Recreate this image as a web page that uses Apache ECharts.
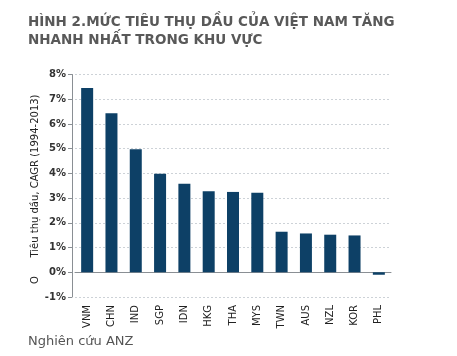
<!DOCTYPE html>
<html><head><meta charset="utf-8">
<script src="https://cdn.jsdelivr.net/npm/echarts@6/dist/echarts.min.js"></script>
<style>html,body{margin:0;padding:0;background:#fff}#c{width:457px;height:356px}</style>
</head><body><div id="c"></div>
<script>
const categories = ['VNM','CHN','IND','SGP','IDN','HKG','THA','MYS','TWN','AUS','NZL','KOR','PHL'];
const cagrValues = [7.45, 6.43, 4.98, 3.99, 3.58, 3.28, 3.25, 3.22, 1.64, 1.57, 1.52, 1.49, -0.1];
const yTicks = {min: -1, max: 8, interval: 1};
const titleLines = ['HÌNH 2.MỨC TIÊU THỤ DẦU CỦA VIỆT NAM TĂNG', 'NHANH NHẤT TRONG KHU VỰC'];
const yAxisName = 'Tiêu thụ dầu, CAGR (1994-2013)';
const sourceText = 'Nghiên cứu ANZ';

const chart = echarts.init(document.getElementById('c'), null, {renderer: 'canvas'});
chart.setOption({
  animation: false,
  backgroundColor: '#ffffff',
  textStyle: {fontFamily: 'DejaVu Sans'},
  title: {
    text: titleLines.join('\n'),
    left: 23, top: 8,
    textStyle: {fontFamily: 'DejaVu Sans', fontSize: 13.5, fontWeight: 'bold', color: '#595959', lineHeight: 18}
  },
  grid: {left: 75, right: 66, top: 74.5, bottom: 59},
  xAxis: {
    type: 'category',
    data: categories,
    axisLine: {lineStyle: {color: '#8a8f94', width: 1}},
    axisTick: {alignWithLabel: false, length: 4, lineStyle: {color: '#8a8f94'}},
    axisLabel: {rotate: 90, interval: 0, margin: 8, fontSize: 10, color: '#222', fontFamily: 'DejaVu Sans'},
    splitLine: {show: false}
  },
  yAxis: {
    type: 'value',
    offset: 3,
    min: yTicks.min, max: yTicks.max, interval: yTicks.interval,
    axisLine: {show: true, onZero: false, lineStyle: {color: '#8a8f94'}},
    axisTick: {show: true, length: 4, lineStyle: {color: '#8a8f94'}},
    axisLabel: {formatter: '{value}%', fontSize: 10, fontWeight: 'bold', color: '#333', margin: 6, fontFamily: 'DejaVu Sans'},
    splitLine: {lineStyle: {color: '#cdd2d7', type: [2, 2], width: 1}}
  },
  series: [{
    type: 'bar',
    data: cagrValues,
    barWidth: 12,
    itemStyle: {color: '#0d4066'}
  }],
  graphic: [
    {type: 'text', left: 28, top: 335, style: {text: sourceText, fontSize: 13, fill: '#555', fontFamily: 'DejaVu Sans'}},
    {type: 'text', x: 35, y: 176, rotation: Math.PI / 2,
     style: {text: yAxisName, fontSize: 10, fill: '#222', align: 'center', verticalAlign: 'middle', fontFamily: 'DejaVu Sans'}},
    {type: 'text', x: 35, y: 280, rotation: Math.PI / 2,
     style: {text: 'O', fontSize: 10, fill: '#222', align: 'center', verticalAlign: 'middle', fontFamily: 'DejaVu Sans'}}
  ]
});
</script></body></html>
